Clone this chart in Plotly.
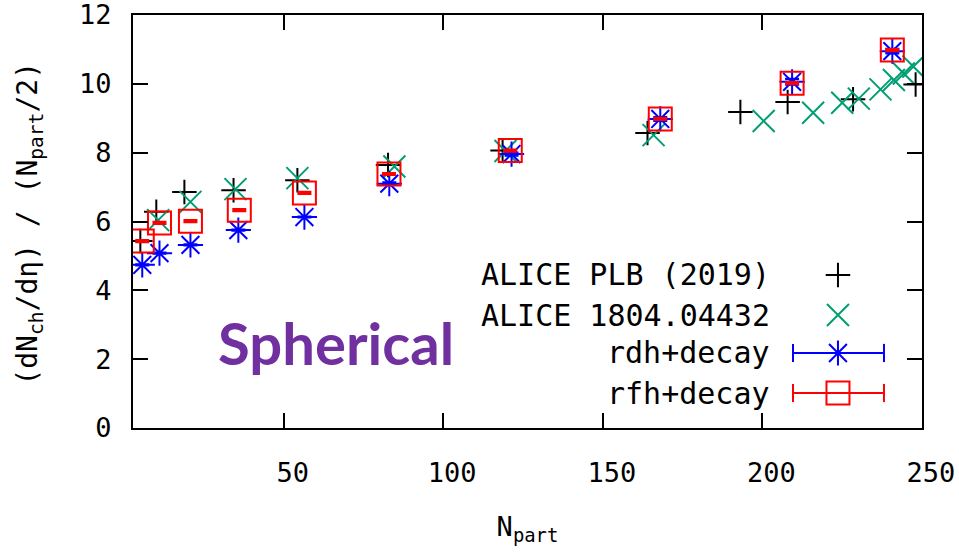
import plotly.graph_objects as go

# ALICE PLB (2019)
plb_npart = [5.1, 10.1, 18.9, 34.3, 54.3, 82.7, 118.6, 164.0, 193.1, 207.9, 228.4, 248.0]
plb_val = [5.43, 6.28, 6.86, 6.91, 7.20, 7.64, 8.06, 8.57, 9.18, 9.47, 9.55, 9.98]

# ALICE 1804.04432
a18_npart = [10.7, 20.8, 34.9, 54.3, 84.7, 119.5, 165.9, 200.4, 215.9, 225.0, 230.2, 237.0, 241.2, 244.3, 247.3]
a18_val = [6.04, 6.57, 6.94, 7.26, 7.60, 8.05, 8.51, 8.92, 9.16, 9.45, 9.57, 9.84, 10.11, 10.30, 10.50]

# model: rdh+decay
rdh_npart = [5.7, 11.1, 20.8, 35.8, 56.5, 83.1, 121.4, 168.0, 209.3, 240.7]
rdh_val = [4.74, 5.08, 5.32, 5.75, 6.13, 7.10, 7.96, 8.98, 10.06, 10.95]
rdh_err = [0.01, 0.01, 0.01, 0.01, 0.01, 0.03, 0.04, 0.05, 0.08, 0.06]

# model: rfh+decay
rfh_npart = [5.7, 11.1, 20.8, 36.1, 56.5, 83.0, 121.0, 168.0, 209.3, 240.7]
rfh_val = [5.43, 5.96, 6.01, 6.33, 6.83, 7.38, 8.06, 8.98, 10.02, 10.98]
rfh_err = [0.025, 0.025, 0.025, 0.025, 0.025, 0.025, 0.025, 0.025, 0.025, 0.025]

legend_labels = ["ALICE PLB (2019)", "ALICE 1804.04432", "rdh+decay", "rfh+decay"]
x_ticks = [50, 100, 150, 200, 250]
y_ticks = [0, 2, 4, 6, 8, 10, 12]

BLACK, GREEN, BLUE, RED = "#000000", "#009e73", "#0000ff", "#ff0000"
MONO = "DejaVu Sans Mono"

sym_plb = dict(symbol="cross-thin-open", size=17.5, color=BLACK, line=dict(color=BLACK, width=2))
sym_a18 = dict(symbol="x-thin-open", size=22, color=GREEN, line=dict(color=GREEN, width=2))
sym_rdh = dict(symbol="asterisk-open", size=21, color=BLUE, line=dict(color=BLUE, width=2))
sym_rfh = dict(symbol="square-open", size=23, color=RED, line=dict(color=RED, width=2))

fig = go.Figure()

fig.add_trace(go.Scatter(x=plb_npart, y=plb_val, mode="markers",
                         name=legend_labels[0], marker=sym_plb))
fig.add_trace(go.Scatter(x=a18_npart, y=a18_val, mode="markers",
                         name=legend_labels[1], marker=sym_a18))
fig.add_trace(go.Scatter(
    x=rdh_npart, y=rdh_val, mode="markers", name=legend_labels[2], marker=sym_rdh,
    error_y=dict(type="data", array=rdh_err, color=BLUE, thickness=2.5, width=7),
))
fig.add_trace(go.Scatter(
    x=rfh_npart, y=rfh_val, mode="markers", name=legend_labels[3], marker=sym_rfh,
    error_y=dict(type="data", array=rfh_err, color=RED, thickness=2.5, width=7),
))

# key, gnuplot style: label on the left, sample on the right
key_rows = [0.3705, 0.2736, 0.1816, 0.0847]
key_text_x = 0.81
key_sample_x = 0.8935
key_bar = (0.8365, 0.9518)
key_symbols = [sym_plb, sym_a18, sym_rdh, sym_rfh]
key_colors = [BLACK, GREEN, BLUE, RED]

for i, (label, yk) in enumerate(zip(legend_labels, key_rows)):
    fig.add_annotation(
        x=key_text_x, y=yk, xref="paper", yref="paper", text=label,
        showarrow=False, xanchor="right", yanchor="middle",
        font=dict(family=MONO, size=30, color="black"),
    )
    if i >= 2:
        c = key_colors[i]
        fig.add_trace(go.Scatter(
            x=list(key_bar), y=[yk, yk], xaxis="x2", yaxis="y2", mode="lines+markers",
            line=dict(color=c, width=2),
            marker=dict(symbol="line-ns-open", size=13, color=c, line=dict(color=c, width=2)),
            showlegend=False, hoverinfo="skip",
        ))
    fig.add_trace(go.Scatter(
        x=[key_sample_x], y=[yk], xaxis="x2", yaxis="y2", mode="markers",
        marker=key_symbols[i], showlegend=False, hoverinfo="skip",
    ))

fig.add_annotation(
    x=-0.131, y=0.494, xref="paper", yref="paper",
    text="(dN<sub>ch</sub>/dη) / (N<sub>part</sub>/2)",
    textangle=-90, showarrow=False, xanchor="center", yanchor="middle",
    font=dict(family=MONO, size=28, color="black"),
)

fig.add_annotation(
    x=0.257, y=0.206, xref="paper", yref="paper", text="<b>Spherical</b>",
    showarrow=False, xanchor="center", yanchor="middle",
    font=dict(family="Lato", size=58, color="#7030A0"),
)

axis_common = dict(
    showline=True, linecolor="black", linewidth=2, mirror="allticks",
    ticks="inside", ticklen=15, tickwidth=1.5, tickcolor="black",
    showgrid=False, zeroline=False, automargin=False, ticklabeloverflow="allow",
    tickfont=dict(family=MONO, size=27, color="black"),
)

fig.update_layout(
    width=959, height=553,
    margin=dict(l=133, r=37, t=15, b=125),
    paper_bgcolor="white", plot_bgcolor="white",
    showlegend=False,
    xaxis=dict(range=[2.8, 250], tickvals=x_ticks, ticklabelshift=9,
               ticklabelstandoff=20,
               title=dict(text="N<sub>part</sub>", font=dict(family=MONO, size=27, color="black"),
                          standoff=30),
               **axis_common),
    yaxis=dict(range=[0, 12], tickvals=y_ticks, ticklabelstandoff=14, **axis_common),
    xaxis2=dict(range=[0, 1], overlaying="x", visible=False, fixedrange=True),
    yaxis2=dict(range=[0, 1], overlaying="y", visible=False, fixedrange=True),
)

fig.write_html("out.html")
